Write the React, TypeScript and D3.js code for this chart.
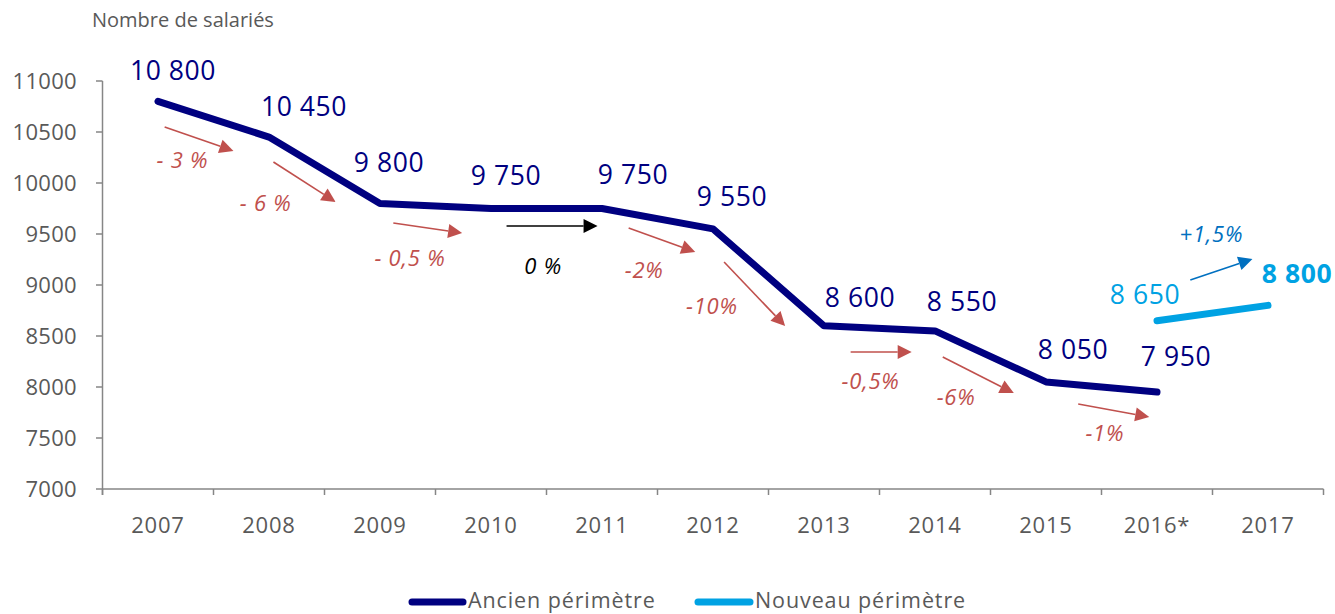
import React from "react";
import * as d3 from "d3";

const categories = ["2007", "2008", "2009", "2010", "2011", "2012", "2013", "2014", "2015", "2016*", "2017"];
const ancienValues: (number | null)[] = [10800, 10450, 9800, 9750, 9750, 9550, 8600, 8550, 8050, 7950, null];
const nouveauValues: (number | null)[] = [null, null, null, null, null, null, null, null, null, 8650, 8800];
const ancienLabels = ["10 800", "10 450", "9 800", "9 750", "9 750", "9 550", "8 600", "8 550", "8 050", "7 950", ""];
const nouveauLabels = ["", "", "", "", "", "", "", "", "", "8 650", "8 800"];
const yTicks = [7000, 7500, 8000, 8500, 9000, 9500, 10000, 10500, 11000];

// label offsets (px) relative to the point
const ancienLabelOffsets: [number, number][] = [
  [15, -31], [35, -30], [9, -41], [15, -33], [31, -34], [19, -32], [36, -28], [27, -29], [27, -32], [19, -35], [0, 0],
];
const nouveauLabelOffsets: [number, number][] = [
  [0, 0], [0, 0], [0, 0], [0, 0], [0, 0], [0, 0], [0, 0], [0, 0], [0, 0], [-12, -26], [29, -32],
];

// change annotations: [startIndex, startValue, endIndex, endValue, labelIndex, labelValue, text, kind]
const changeArrows: [number, number, number, number, number, number, string, string][] = [
  [0.06, 10549, 0.68, 10314, 0.22, 10225, "- 3 %", "down"],
  [1.04, 10206, 1.6, 9814, 0.97, 9804, "- 6 %", "down"],
  [2.12, 9608, 2.74, 9510, 2.27, 9265, "- 0,5 %", "down"],
  [3.14, 9578, 3.96, 9578, 3.47, 9186, "0 %", "flat"],
  [4.24, 9559, 4.84, 9324, 4.38, 9147, "-2%", "down"],
  [5.1, 9225, 5.65, 8598, 4.99, 8794, "-10%", "down"],
  [6.24, 8343, 6.79, 8343, 6.42, 8059, "-0,5%", "down"],
  [7.07, 8294, 7.71, 7941, 7.19, 7902, "-6%", "down"],
  [8.29, 7833, 8.93, 7706, 8.53, 7549, "-1%", "down"],
  [9.3, 9049, 9.86, 9255, 9.49, 9500, "+1,5%", "up"],
];

const W = 1335;
const H = 614;
const FONT = "'Open Sans', 'Noto Sans', sans-serif";
const NAVY = "#000080";
const LIGHT = "#00A2E3";
const RED = "#C0504D";
const BLUE = "#0070C0";
const GRAY = "#595959";
const AXIS = "#868686";

const arrowColor: Record<string, string> = { down: RED, flat: "#000000", up: BLUE };

export default function App() {
  const x = d3.scaleBand<string>().domain(categories).range([102.5, 1323.5]).padding(0);
  const y = d3.scaleLinear().domain([7000, 11000]).range([489, 81]);
  const cx = (i: number) => (x(categories[0]) as number) + x.bandwidth() * (i + 0.5);

  const line = d3
    .line<number | null>()
    .defined((d) => d !== null)
    .x((_, i) => cx(i))
    .y((d) => y(d as number));

  const arrows = changeArrows.map((a, k) => {
    const [si, sv, ei, ev, li, lv, text, kind] = a;
    const x1 = cx(si), y1 = y(sv), x2 = cx(ei), y2 = y(ev);
    const ang = Math.atan2(y2 - y1, x2 - x1);
    const hl = 14, hw = 7;
    const bx = x2 - hl * Math.cos(ang), by = y2 - hl * Math.sin(ang);
    const px = -Math.sin(ang) * hw, py = Math.cos(ang) * hw;
    const color = arrowColor[kind];
    return (
      <g key={k}>
        <line x1={x1} y1={y1} x2={bx} y2={by} stroke={color} strokeWidth={1.6} />
        <polygon points={`${x2},${y2} ${bx + px},${by + py} ${bx - px},${by - py}`} fill={color} />
        <text x={cx(li)} y={y(lv)} dy="0.35em" textAnchor="middle" fontStyle="italic" fontSize={22} letterSpacing={0.8} fill={color} fontFamily={FONT}>
          {text}
        </text>
      </g>
    );
  });

  const bandEdges = d3.range(categories.length + 1).map((i) => 102.5 + x.bandwidth() * i);

  return (
    <svg width={W} height={H} style={{ position: "absolute", left: 0, top: 0 }} fontFamily={FONT}>
      <rect width={W} height={H} fill="#fff" />
      <text x={92} y={27} fontSize={20} fill={GRAY}>Nombre de salariés</text>

      {/* y axis */}
      <line x1={102.5} x2={102.5} y1={y(11000)} y2={y(7000) + 6} stroke={AXIS} strokeWidth={1.5} />
      {yTicks.map((t) => (
        <g key={t}>
          <line x1={96} x2={102.5} y1={y(t)} y2={y(t)} stroke={AXIS} strokeWidth={1.5} />
          <text x={77} y={y(t)} dy="0.36em" textAnchor="end" fontSize={22} letterSpacing={0.3} fill={GRAY}>{t}</text>
        </g>
      ))}
      {/* x axis */}
      <line x1={102.5} x2={1323.5} y1={y(7000)} y2={y(7000)} stroke={AXIS} strokeWidth={1.5} />
      {bandEdges.map((e, i) => (
        <line key={i} x1={e} x2={e} y1={y(7000)} y2={y(7000) + 6} stroke={AXIS} strokeWidth={1.5} />
      ))}
      {categories.map((c, i) => (
        <text key={c} x={cx(i)} y={525} dy="0.35em" textAnchor="middle" fontSize={22} letterSpacing={0.8} fill={GRAY}>{c}</text>
      ))}

      {/* series */}
      <path d={line(ancienValues) || ""} fill="none" stroke={NAVY} strokeWidth={7} strokeLinejoin="round" strokeLinecap="round" />
      <path d={line(nouveauValues) || ""} fill="none" stroke={LIGHT} strokeWidth={7} strokeLinejoin="round" strokeLinecap="round" />

      {ancienValues.map((v, i) =>
        v === null ? null : (
          <text key={"a" + i} x={cx(i) + ancienLabelOffsets[i][0]} y={y(v) + ancienLabelOffsets[i][1]} dy="0.35em" textAnchor="middle" fontSize={26.5} letterSpacing={0.6} fill={NAVY}>
            {ancienLabels[i]}
          </text>
        )
      )}
      {nouveauValues.map((v, i) =>
        v === null ? null : (
          <text key={"n" + i} x={cx(i) + nouveauLabelOffsets[i][0]} y={y(v) + nouveauLabelOffsets[i][1]} dy="0.35em" textAnchor="middle" fontSize={26.5} letterSpacing={0.6} fill={LIGHT} fontWeight={i === 10 ? "bold" : "normal"}>
            {nouveauLabels[i]}
          </text>
        )
      )}

      {arrows}

      {/* legend */}
      <line x1={412} x2={463} y1={602} y2={602} stroke={NAVY} strokeWidth={7} strokeLinecap="round" />
      <text x={468} y={608} fontSize={21.5} fill={GRAY} letterSpacing={0.9}>Ancien périmètre</text>
      <line x1={698} x2={750} y1={602} y2={602} stroke={LIGHT} strokeWidth={7} strokeLinecap="round" />
      <text x={755} y={608} fontSize={21.5} fill={GRAY} letterSpacing={0.9}>Nouveau périmètre</text>
    </svg>
  );
}
